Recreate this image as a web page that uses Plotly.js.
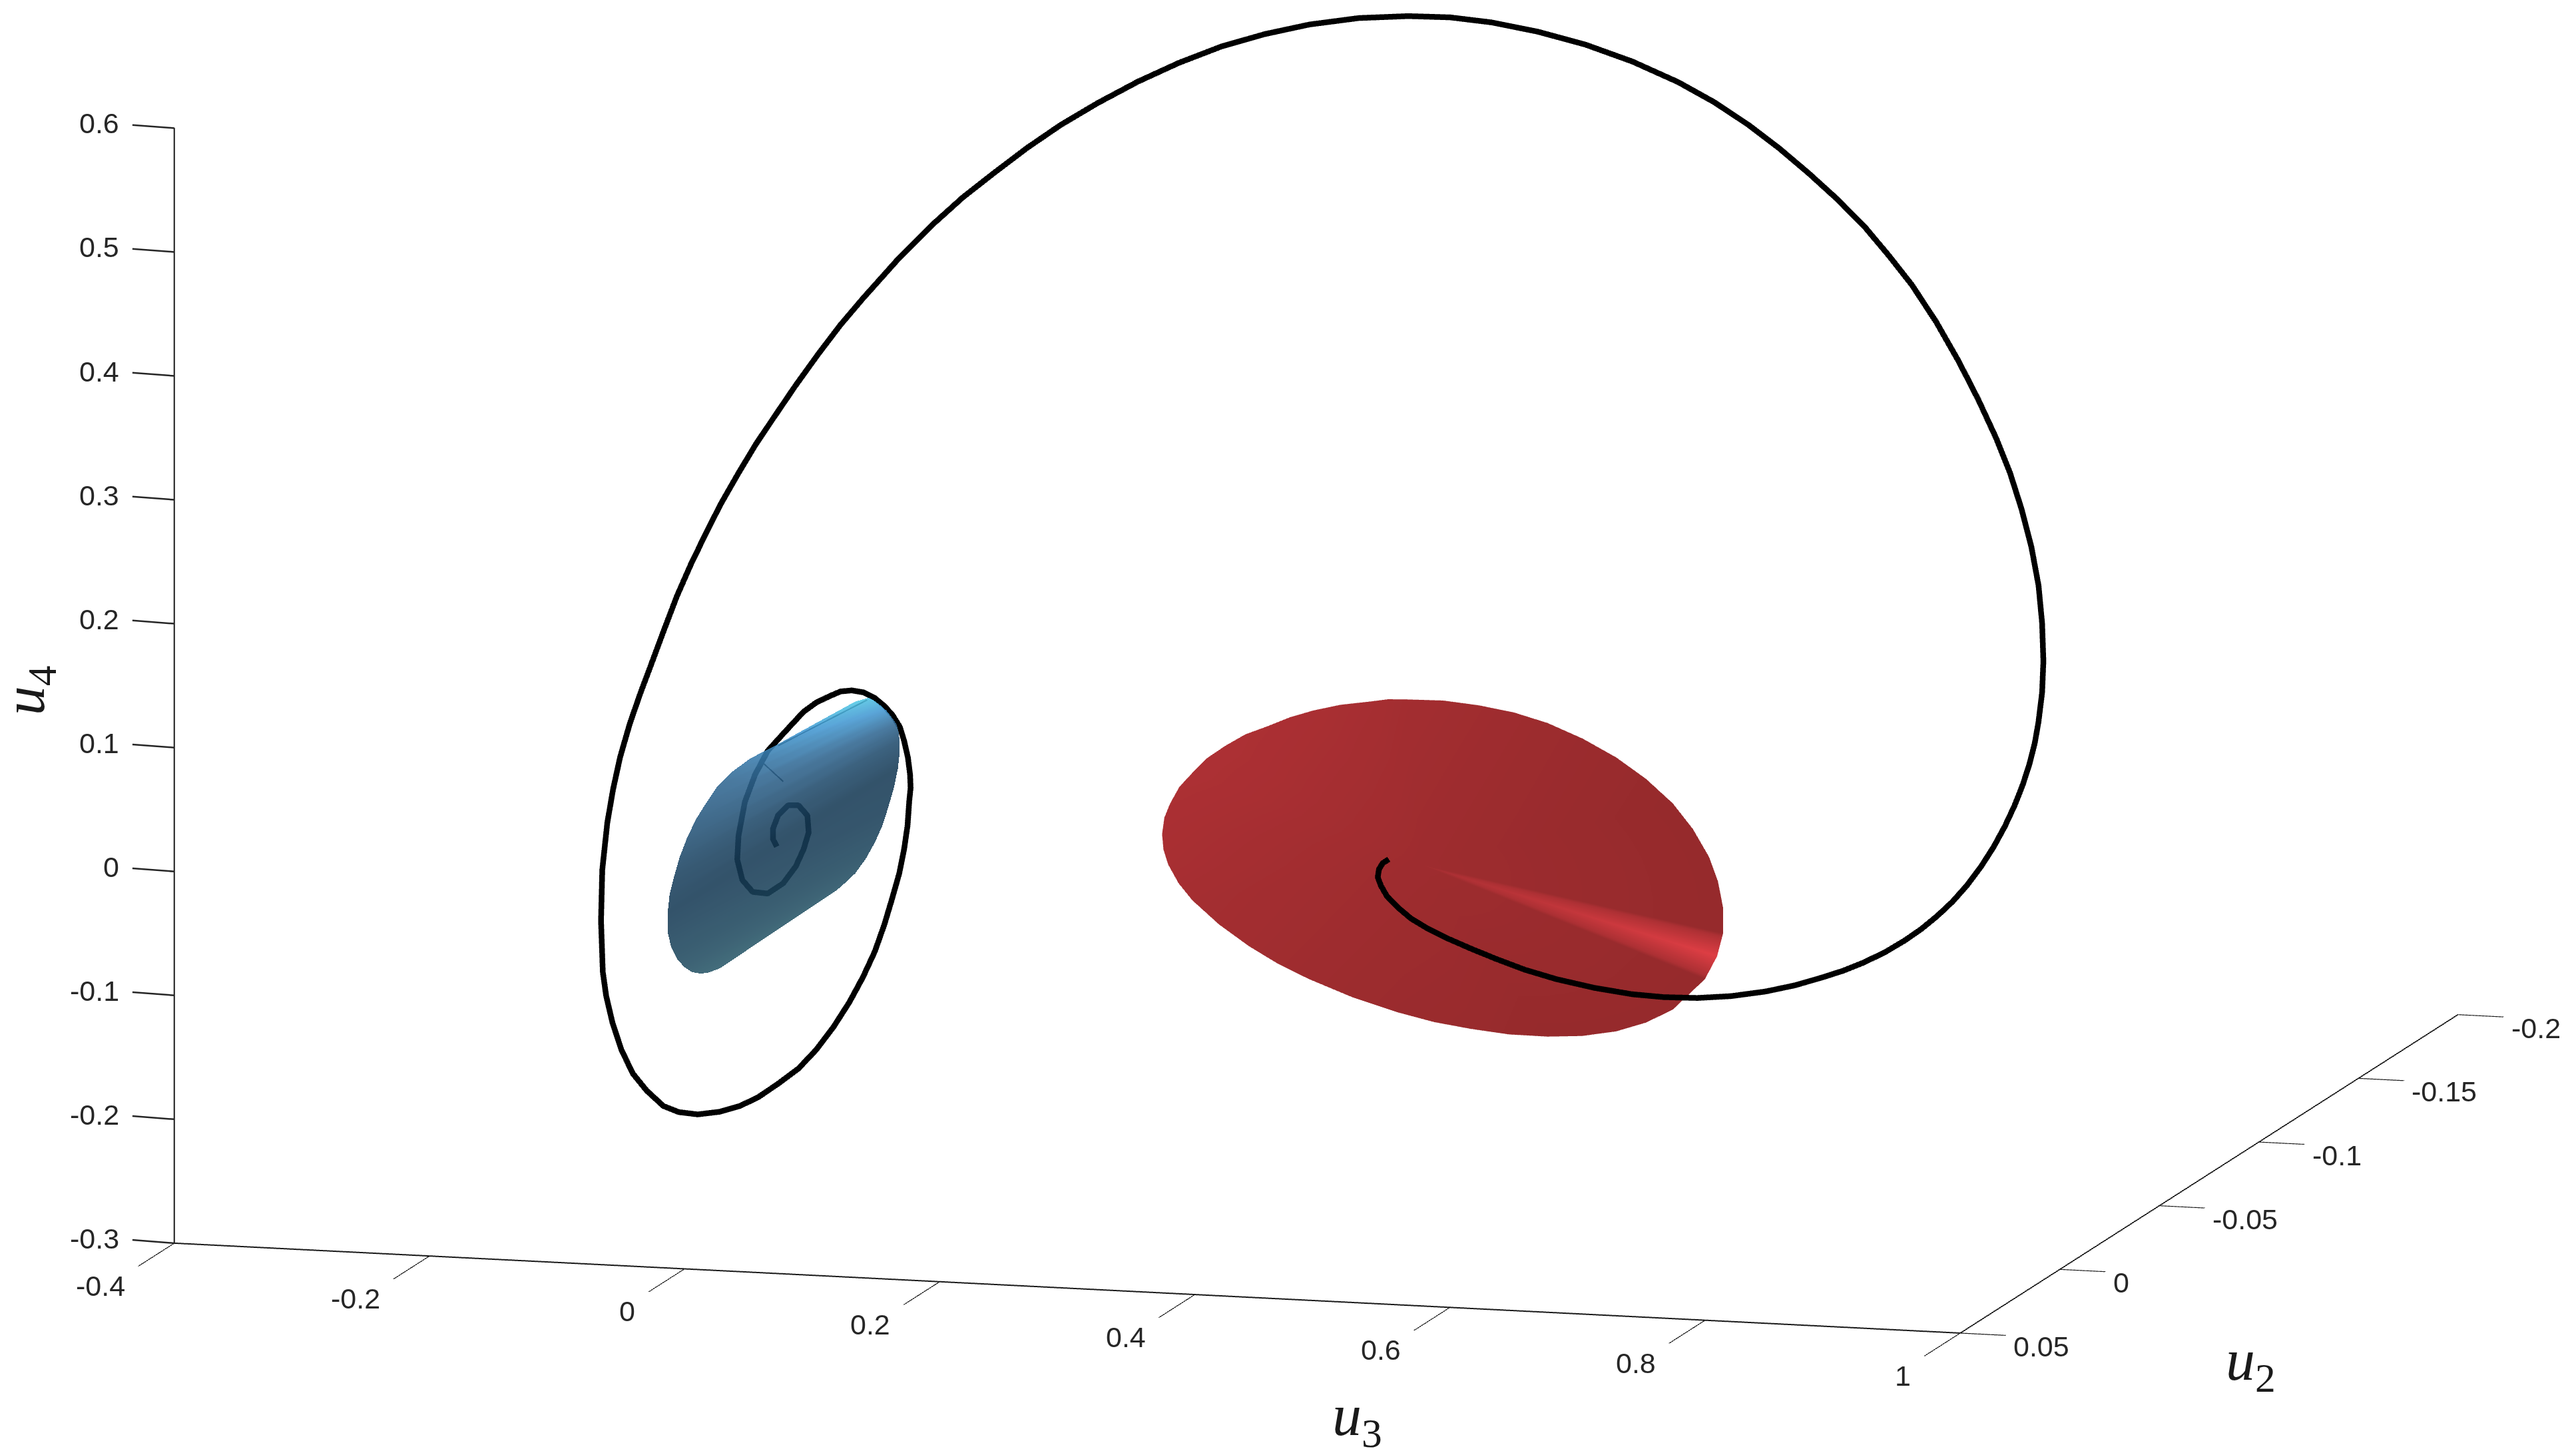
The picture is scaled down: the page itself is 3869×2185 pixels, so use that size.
<!DOCTYPE html>
<html><head><meta charset="utf-8">
<script src="https://cdn.plot.ly/plotly-3.0.1.min.js"></script>
<style>html,body{margin:0;padding:0;background:#fff}#p{width:3869px;height:2185px}</style></head>
<body><div id="p"></div>
<script>
const curveU3=[-.0838,-.0868,-.0868,-.0828,-.0748,-.0668,-.0598,-.0588,-.0628,-.0689,-.0788,-.0909,-.1027,-.1108,-.1148,-.1138,-.1088,-.1008,-.0909,-.0788,-.0628,-.0529,-.0429,
-.0338,-.0249,-.0159,-.0069,.0006,.0070,.0127,.0160,.0190,.0207,.0211,.0200,
.0187,.0160,.0122,.0070,.0006,-.0069,-.0162,-.0269,-.0394,-.0529,
-.0668,-.0828,-.0987,-.1128,-.1287,-.1458,-.1607,-.1727,-.1857,-.1966,-.2056,-.2126,-.2176,-.2202,
-.2216,-.2206,-.2166,-.2122,-.2067,-.1991,-.1907,
-.1825,-.1728,-.1620,-.1512,-.1398,-.1276,-.1147,-.1004,-.0851,-.0690,-.0513,-.0342,-.0162,.0109,.0392,
.0310,.0557,.0812,
.0763,.1058,.1368,.1689,.2024,.2365,.2713,.3099,.3488,.3814,
.4142,.4503,.4873,.5244,.5606,.5888,.6154,.6396,.6631,.6854,
.7070,.7259,.7436,.7626,.7803,.7955,.8095,.8206,.8296,.8373,
.8429,.8457,.8467,.8457,.8428,.8399,.8358,.8306,.8242,.8165,
.8078,.7978,.7868,.7755,.7635,.7510,.7379,.7221,.7053,
.7521,.7356,.7141,.6913,.6645,.6377,.6117,.5865,.5570,.5272,
.5029,.4797,.4604,.4418,.4269,.4134,.4031,.3944,.3898,.3873,
.3883,.3912,.3960];
const curveU4=[-.0664,-.0605,-.0522,-.0411,-.0325,-.0321,-.0400,-.0536,-.0674,-.0815,-.0957,-.1046,-.1039,-.0947,-.0784,-.0591,-.0315,-.0091,.0106,.0250,.0436,.0515,.0570,
.0615,.0628,.0617,.0575,.0515,.0444,.0352,.0243,.0108,-.0029,-.0137,-.0248,
-.0442,-.0633,-.0830,-.1022,-.1247,-.1469,-.1681,-.1890,-.2097,-.2287,
-.2446,-.2577,-.2696,-.2772,-.2827,-.2857,-.2846,-.2803,-.2687,-.2554,-.2367,-.2152,-.1935,-.1744,
-.1334,-.0921,-.0536,-.0271,-.0009,.0267,.0520,
.0749,.1023,.1320,.1578,.1827,.2081,.2320,.2573,.2815,.3067,.3329,.3569,.3797,.4123,.4429,
.4432,.4644,.4856,
.4833,.5028,.5214,.5382,.5532,.5650,.5745,.5817,.5853,.5860,
.5836,.5780,.5696,.5578,.5429,.5282,.5114,.4937,.4744,.4547,
.4333,.4111,.3888,.3600,.3290,.2993,.2689,.2409,.2122,.1821,
.1513,.1209,.0905,.0652,.0408,.0238,.0070,-.0099,-.0270,-.0444,
-.0613,-.0779,-.0936,-.1073,-.1195,-.1307,-.1407,-.1512,-.1603,
-.1232,-.1295,-.1370,-.1431,-.1482,-.1511,-.1518,-.1507,-.1471,-.1416,
-.1354,-.1276,-.1205,-.1131,-.1063,-.0986,-.0902,-.0814,-.0733,-.0667,
-.0601,-.0550,-.0517];
const curveU2=[-.05,-.05,-.05,-.05,-.05,-.05,-.05,-.05,-.05,-.05,-.05,-.05,-.05,-.05,-.05,-.05,-.05,-.05,-.05,-.05,-.05,-.05,-.05,
-.05,-.05,-.05,-.05,-.05,-.05,-.05,-.05,-.05,-.05,-.05,-.05,
-.05,-.05,-.05,-.05,-.05,-.05,-.05,-.05,-.05,-.05,
-.05,-.05,-.05,-.05,-.05,-.05,-.05,-.05,-.05,-.05,-.05,-.05,-.05,-.05,
-.05,-.05,-.05,-.05,-.05,-.05,-.05,
-.05,-.05,-.05,-.05,-.05,-.05,-.05,-.05,-.05,-.05,-.05,-.05,-.05,-.05,-.05,
-.07,-.07,-.07,
-.09,-.09,-.09,-.09,-.09,-.09,-.09,-.09,-.09,-.09,
-.09,-.09,-.09,-.09,-.09,-.09,-.09,-.09,-.09,-.09,
-.09,-.09,-.09,-.09,-.09,-.09,-.09,-.09,-.09,-.09,
-.09,-.09,-.09,-.09,-.09,-.09,-.09,-.09,-.09,-.09,
-.09,-.09,-.09,-.09,-.09,-.09,-.09,-.09,-.09,
-.05,-.05,-.05,-.05,-.05,-.05,-.05,-.05,-.05,-.05,
-.05,-.05,-.05,-.05,-.05,-.05,-.05,-.05,-.05,-.05,
-.05,-.05,-.05];
const seamU3=[-.0948,-.0788,null,-.0828,-.0130];
const seamU4=[.0008,-.0135,null,.0151,.0557];
const seamU2=[-.05,-.05,null,-.05,-.05];

const redU3=[.3443,.3316,.3606,.3885,.4159,.4424,.4700,.4962,.5196,.5405,.5563,.5690,.5760,.5800,.5800,.5753,.5658,.5405,.5196,.4962,.4694,.4424,.4121,.3822,.3535,.3253,.2897,.2557,.2311,.2082,.1848,.1639,.1532,.1450,.1413,.1402,.1420,.1465,.1538,.1639,.1755,.1893,.2054,.2240,.2408,.2588,.2801,.3031,.3174];
const redU4=[-.1104,.0226,.0232,.0208,.0165,.0093,-.0019,-.0157,-.0318,-.0504,-.0703,-.0922,-.1117,-.1327,-.1533,-.1720,-.1910,-.2170,-.2285,-.2368,-.2419,-.2438,-.2436,-.2407,-.2367,-.2304,-.2201,-.2072,-.1960,-.1829,-.1666,-.1482,-.1351,-.1204,-.1085,-.0960,-.0826,-.0710,-.0572,-.0454,-.0329,-.0225,-.0122,-.0042,.0036,.0099,.0156,.0194,.0220];
const redShade=[.05,.08,.07,.06,.05,.04,.03,.02,.01,0,0,0,0,0,0,1,0,0,0,0,0,0,.01,.02,.025,.03,.04,.05,.06,.07,.08,.09,.10,.11,.115,.12,.125,.13,.135,.14,.14,.14,.135,.13,.125,.12,.11,.10,.09];
const redU2Level=-.10;

const blueLeftU3=[-.0816,-.0901,-.0966,-.1036,-.1094,-.1152,-.1197,-.1226,-.1226,-.1210,-.1175,-.1133,-.1076,-.1004,-.0914,-.0830,-.0734,-.0579,-.0399,-.0097,.0245];
const blueLeftU4=[-.1336,-.1374,-.1387,-.1378,-.1341,-.1278,-.1187,-.1063,-.0918,-.0763,-.0616,-.0461,-.0305,-.0143,.0008,.0139,.0243,.0370,.0473,.0661,.0872];
const blueRightU3=[.0104,.0174,.0245,.0329,.0400,.0458,.0503,.0548,.0580,.0593,.0593,.0584,.0567,.0529,.0490,.0451,.0413,.0387,.0361,.0348,.0342];
const blueRightU4=[-.0655,-.0588,-.0515,-.0391,-.0255,-.0119,.0029,.0190,.0351,.0471,.0577,.0650,.0709,.0762,.0811,.0845,.0873,.0892,.0904,.0906,.0905];
const blueLeftShade=[.05,.065,.08,.115,.15,.185,.22,.26,.30,.325,.35,.40,.45,.50,.55,.585,.62,.67,.72,.85,1];
const blueRightShade=[.10,.125,.15,.185,.22,.25,.28,.29,.30,.36,.42,.51,.60,.69,.78,.84,.90,.935,.97,1,1];
const blueU2Level=-.02;

const tickU3=[-.4,-.2,0,.2,.4,.6,.8,1];
const tickU2=[-.2,-.15,-.1,-.05,0,.05];
const tickU4=[-.3,-.2,-.1,0,.1,.2,.3,.4,.5,.6];

const flat={ambient:1,diffuse:0,specular:0,roughness:1,fresnel:0};

const n=redU3.length, ri=[],rj=[],rk=[];
for(let a=1;a<n;a++){ri.push(0);rj.push(a);rk.push(a+1>=n?1:a+1);}
const m=blueLeftU3.length, bi=[],bj=[],bk=[];
for(let a=0;a<m-1;a++){bi.push(a,a+1);bj.push(a+m,a+m);bk.push(a+1,a+m+1);}

const data=[
 {type:'scatter3d',mode:'lines',x:curveU3,y:curveU2,z:curveU4,line:{color:'#000',width:17},hoverinfo:'skip',showlegend:false},
 {type:'scatter3d',mode:'lines',x:seamU3,y:seamU2,z:seamU4,line:{color:'#000',width:4},hoverinfo:'skip',showlegend:false},
 {type:'mesh3d',x:redU3,y:redU3.map(()=>redU2Level),z:redU4,i:ri,j:rj,k:rk,intensity:redShade,
  colorscale:[[0,'#962a2c'],[.14,'#ad3034'],[1,'#de3e44']],cmin:0,cmax:1,showscale:false,lighting:flat,hoverinfo:'skip'},
 {type:'mesh3d',x:blueLeftU3.concat(blueRightU3),y:blueLeftU3.concat(blueRightU3).map(()=>blueU2Level),z:blueLeftU4.concat(blueRightU4),
  i:bi,j:bj,k:bk,intensity:blueLeftShade.concat(blueRightShade),
  colorscale:[[0,'#2d5f6d'],[.3,'#163a55'],[.6,'#306792'],[.8,'#4298d2'],[1,'#52c9e5']],cmin:0,cmax:1,showscale:false,opacity:.875,lighting:flat,hoverinfo:'skip'}
];

function ax(range,vals,len){return {range:range,tickmode:'array',tickvals:vals,showticklabels:false,
 showgrid:false,zeroline:false,showline:true,linecolor:'#1a1a1a',linewidth:4,ticks:len?'outside':'',ticklen:len,tickwidth:4,tickcolor:'#1a1a1a',
 showbackground:false,showspikes:false,title:{text:''}};}
const tickFont={family:'Liberation Sans',size:43,color:'#262626'};
const sceneNotes=[]
 .concat(tickU4.map(v=>({x:-.4,y:.05,z:v,text:' ',showarrow:true,arrowhead:0,arrowwidth:2.5,arrowcolor:'#262626',standoff:0,ax:-66,ay:-5})))
 .concat(tickU3.map(v=>({x:v,y:.05,z:-.3,text:String(v),showarrow:false,xanchor:'right',yanchor:'middle',xshift:-72,yshift:-64,font:tickFont})))
 .concat(tickU2.map(v=>({x:1,y:v,z:-.3,text:String(v),showarrow:false,xanchor:'left',yanchor:'middle',xshift:78,yshift:-20,font:tickFont})))
 .concat(tickU4.map(v=>({x:-.4,y:.05,z:v,text:String(v),showarrow:false,xanchor:'right',yanchor:'middle',xshift:-81,yshift:7,font:tickFont})));

const layout={width:3869,height:2185,margin:{l:0,r:0,t:0,b:0},paper_bgcolor:'#fff',showlegend:false,
 scene:{domain:{x:[0,1],y:[0,1]},aspectmode:'manual',aspectratio:{x:2.55,y:2.533,z:1.558},annotations:sceneNotes,
  xaxis:ax([-.4,1],tickU3,71),yaxis:ax([.05,-.2],tickU2,200),zaxis:ax([-.3,.6],tickU4,0),
  camera:{projection:{type:'orthographic'},up:{x:0,y:0,z:1},center:{x:-.02685,y:-.04752,z:-.2111},eye:{x:.7700,y:-2.8879,z:.3271}}},
 annotations:[
  {xref:'paper',yref:'paper',x:826*2.4675/3869,y:1-864*2.4675/2185,xanchor:'center',yanchor:'middle',text:'<i>u</i><sub>3</sub>',showarrow:false,font:{family:'Liberation Serif',size:88,color:'#1a1a1a'}},
  {xref:'paper',yref:'paper',x:1370*2.4675/3869,y:1-830*2.4675/2185,xanchor:'center',yanchor:'middle',text:'<i>u</i><sub>2</sub>',showarrow:false,font:{family:'Liberation Serif',size:88,color:'#1a1a1a'}},
  {xref:'paper',yref:'paper',x:17*2.4675/3869,y:1-420*2.4675/2185,xanchor:'center',yanchor:'middle',text:'<i>u</i><sub>4</sub>',textangle:-90,showarrow:false,font:{family:'Liberation Serif',size:88,color:'#1a1a1a'}}
 ]};
Plotly.newPlot('p',data,layout,{displayModeBar:false,plotGlPixelRatio:1});
</script></body></html>
